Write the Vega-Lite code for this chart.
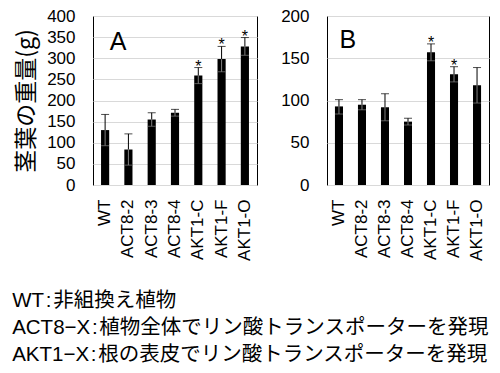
{
  "$schema": "https://vega.github.io/schema/vega-lite/v6.json",
  "padding": {"left": 12, "top": 6, "right": 3, "bottom": 5},
  "background": "#ffffff",
  "config": {
    "font": "Liberation Sans, 'Noto Sans CJK JP', sans-serif",
    "view": {"stroke": "#000000", "strokeWidth": 1},
    "axis": {"domain": false, "ticks": false, "labelColor": "#000000", "titleColor": "#000000", "gridColor": "#d9d9d9", "labelOverlap": false, "labelFont": "Liberation Sans, 'Noto Sans CJK JP', sans-serif"},
    "axisY": {"labelFontSize": 17, "labelPadding": 18, "titleFontSize": 23, "titleFontWeight": "normal", "titleFont": "'Noto Sans CJK JP', sans-serif", "titlePadding": 8, "labelOverlap": false},
    "axisX": {"labelAngle": -90, "labelFontSize": 17, "labelPadding": 14, "grid": false}
  },
  "datasets": {
    "a": [
      {"line": "WT", "weight": 130, "lo": 93, "hi": 167, "sig": ""},
      {"line": "ACT8-2", "weight": 84, "lo": 47, "hi": 121, "sig": ""},
      {"line": "ACT8-3", "weight": 155, "lo": 139, "hi": 171, "sig": ""},
      {"line": "ACT8-4", "weight": 171, "lo": 163, "hi": 179, "sig": ""},
      {"line": "AKT1-C", "weight": 259, "lo": 240, "hi": 278, "sig": "*"},
      {"line": "AKT1-F", "weight": 298, "lo": 268, "hi": 328, "sig": "*"},
      {"line": "AKT1-O", "weight": 328, "lo": 307, "hi": 349, "sig": "*"}
    ],
    "b": [
      {"line": "WT", "weight": 93, "lo": 84, "hi": 101, "sig": ""},
      {"line": "ACT8-2", "weight": 95, "lo": 89, "hi": 101, "sig": ""},
      {"line": "ACT8-3", "weight": 92, "lo": 76, "hi": 108, "sig": ""},
      {"line": "ACT8-4", "weight": 75, "lo": 71, "hi": 79, "sig": ""},
      {"line": "AKT1-C", "weight": 157, "lo": 147, "hi": 167, "sig": "*"},
      {"line": "AKT1-F", "weight": 131, "lo": 122, "hi": 140, "sig": "*"},
      {"line": "AKT1-O", "weight": 118, "lo": 97, "hi": 139, "sig": ""}
    ]
  },
  "title": {
    "text": ["WT\u200a:\u200a非組換え植物", "ACT8−X\u200a:\u200a植物全体でリン酸トランスポーターを発現", "AKT1−X\u200a:\u200a根の表皮でリン酸トランスポーターを発現"],
    "orient": "bottom",
    "anchor": "start",
    "frame": "bounds",
    "fontSize": 20.5,
    "fontWeight": "normal",
    "lineHeight": 27,
    "offset": 30,
    "dx": -3,
    "color": "#000000",
    "font": "Liberation Sans, 'Noto Sans CJK JP', sans-serif"
  },
  "spacing": 22,
  "hconcat": [
    {
      "width": 164,
      "height": 169,
      "data": {"name": "a"},
      "encoding": {
        "x": {"field": "line", "type": "nominal", "sort": null, "title": null, "scale": {"paddingInner": 0.65, "paddingOuter": 0.345}}
      },
      "layer": [
        {"mark": {"type": "bar", "color": "#000000"},
         "encoding": {"y": {"field": "weight", "type": "quantitative", "scale": {"domain": [0, 400], "nice": false}, "axis": {"values": [0, 50, 100, 150, 200, 250, 300, 350, 400], "labelOverlap": false, "title": "茎葉の重量(g)"}}}},
        {"mark": {"type": "rule", "color": "#000000", "strokeWidth": 1},
         "encoding": {"y": {"field": "weight", "type": "quantitative", "axis": {"values": [0, 50, 100, 150, 200, 250, 300, 350, 400], "labelOverlap": false, "title": "茎葉の重量(g)"}}, "y2": {"field": "hi"}}},
        {"mark": {"type": "rule", "color": "#808080", "strokeWidth": 1},
         "encoding": {"y": {"field": "lo", "type": "quantitative", "axis": {"values": [0, 50, 100, 150, 200, 250, 300, 350, 400], "labelOverlap": false, "title": "茎葉の重量(g)"}}, "y2": {"field": "weight"}}},
        {"mark": {"type": "tick", "color": "#000000", "size": 8, "thickness": 1},
         "encoding": {"y": {"field": "hi", "type": "quantitative", "axis": {"values": [0, 50, 100, 150, 200, 250, 300, 350, 400], "labelOverlap": false, "title": "茎葉の重量(g)"}}}},
        {"mark": {"type": "tick", "color": "#808080", "size": 8, "thickness": 1},
         "encoding": {"y": {"field": "lo", "type": "quantitative", "axis": {"values": [0, 50, 100, 150, 200, 250, 300, 350, 400], "labelOverlap": false, "title": "茎葉の重量(g)"}}}},
        {"mark": {"type": "text", "fontSize": 16, "dy": 4, "baseline": "alphabetic", "color": "#000000"},
         "encoding": {"y": {"field": "hi", "type": "quantitative", "axis": {"values": [0, 50, 100, 150, 200, 250, 300, 350, 400], "labelOverlap": false, "title": "茎葉の重量(g)"}}, "text": {"field": "sig"}}},
        {"data": {"values": [{"label": "A"}]},
         "mark": {"type": "text", "fontSize": 25, "align": "center", "baseline": "middle", "dx": 13, "color": "#000000"},
         "encoding": {"x": {"datum": "WT"}, "y": {"datum": 339, "axis": {"values": [0, 50, 100, 150, 200, 250, 300, 350, 400], "labelOverlap": false, "title": "茎葉の重量(g)"}}, "text": {"field": "label"}}}
      ]
    },
    {
      "width": 162,
      "height": 169,
      "data": {"name": "b"},
      "encoding": {
        "x": {"field": "line", "type": "nominal", "sort": null, "title": null, "scale": {"paddingInner": 0.65, "paddingOuter": 0.345}}
      },
      "layer": [
        {"mark": {"type": "bar", "color": "#000000"},
         "encoding": {"y": {"field": "weight", "type": "quantitative", "scale": {"domain": [0, 200], "nice": false}, "axis": {"values": [0, 50, 100, 150, 200], "title": null}}}},
        {"mark": {"type": "rule", "color": "#000000", "strokeWidth": 1},
         "encoding": {"y": {"field": "weight", "type": "quantitative", "axis": {"values": [0, 50, 100, 150, 200], "title": null}}, "y2": {"field": "hi"}}},
        {"mark": {"type": "rule", "color": "#808080", "strokeWidth": 1},
         "encoding": {"y": {"field": "lo", "type": "quantitative", "axis": {"values": [0, 50, 100, 150, 200], "title": null}}, "y2": {"field": "weight"}}},
        {"mark": {"type": "tick", "color": "#000000", "size": 8, "thickness": 1},
         "encoding": {"y": {"field": "hi", "type": "quantitative", "axis": {"values": [0, 50, 100, 150, 200], "title": null}}}},
        {"mark": {"type": "tick", "color": "#808080", "size": 8, "thickness": 1},
         "encoding": {"y": {"field": "lo", "type": "quantitative", "axis": {"values": [0, 50, 100, 150, 200], "title": null}}}},
        {"mark": {"type": "text", "fontSize": 16, "dy": 4, "baseline": "alphabetic", "color": "#000000"},
         "encoding": {"y": {"field": "hi", "type": "quantitative", "axis": {"values": [0, 50, 100, 150, 200], "title": null}}, "text": {"field": "sig"}}},
        {"data": {"values": [{"label": "B"}]},
         "mark": {"type": "text", "fontSize": 25, "align": "center", "baseline": "middle", "dx": 9, "color": "#000000"},
         "encoding": {"x": {"datum": "WT"}, "y": {"datum": 172, "axis": {"values": [0, 50, 100, 150, 200], "title": null}}, "text": {"field": "label"}}}
      ]
    }
  ]
}
